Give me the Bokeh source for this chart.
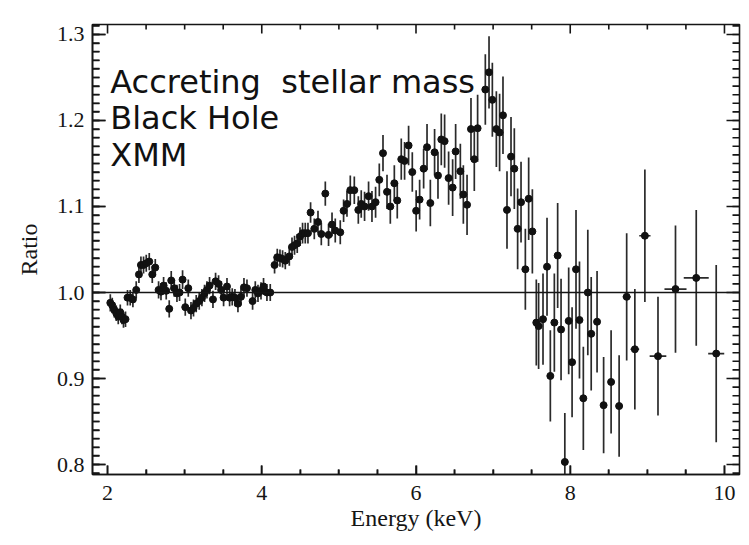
from bokeh.plotting import figure
from bokeh.models import (Range1d, FixedTicker, Span, Label, Whisker,
                          PrintfTickFormatter, ColumnDataSource)
from bokeh.embed import file_html
from bokeh.resources import INLINE

# ---------------- data ----------------
energy = [
    2.036, 2.061, 2.087, 2.113, 2.139, 2.165, 2.187, 2.207, 2.233, 2.259,
    2.294, 2.329, 2.372, 2.407, 2.433, 2.467, 2.502, 2.541, 2.580, 2.619,
    2.662, 2.693, 2.727, 2.761, 2.800, 2.826, 2.865, 2.900, 2.934, 2.973,
    3.008, 3.047, 3.082, 3.115, 3.150, 3.189, 3.224, 3.258, 3.289, 3.323,
    3.367, 3.401, 3.440, 3.475, 3.505, 3.549, 3.583, 3.617, 3.652, 3.691,
    3.730, 3.769, 3.808, 3.881, 3.916, 3.951, 3.990, 4.023, 4.067, 4.110,
    4.166, 4.201, 4.236, 4.270, 4.305, 4.357, 4.392, 4.425, 4.460, 4.496,
    4.529, 4.564, 4.599, 4.633, 4.681, 4.729, 4.772, 4.824, 4.866, 4.911,
    4.953, 5.018, 5.061, 5.105, 5.148, 5.200, 5.252, 5.290, 5.333, 5.385,
    5.429, 5.476, 5.524, 5.572, 5.624, 5.667, 5.719, 5.757, 5.809, 5.852,
    5.904, 5.952, 6.002,
    6.047, 6.099, 6.143, 6.186, 6.241, 6.285, 6.328, 6.371, 6.423, 6.475,
    6.514, 6.575, 6.614, 6.662, 6.713, 6.756, 6.799, 6.899, 6.947, 6.990,
    7.042, 7.084, 7.128, 7.180, 7.232, 7.275, 7.318, 7.362, 7.418, 7.461,
    7.509,
    7.560, 7.590, 7.647, 7.699, 7.742, 7.794, 7.837, 7.881, 7.930, 7.980,
    8.024, 8.075, 8.120, 8.170, 8.228, 8.272, 8.348, 8.433, 8.530, 8.634,
    8.732, 8.838, 8.968, 9.138, 9.365, 9.634, 9.893,
]

ratio = [
    0.988, 0.985, 0.980, 0.976, 0.972, 0.977, 0.972, 0.968, 0.969, 0.994,
    0.994, 0.992, 1.003, 1.021, 1.032, 1.032, 1.034, 1.036, 1.021, 1.029,
    1.003, 1.001, 1.008, 1.002, 0.981, 1.014, 1.005, 0.999, 1.000, 1.015,
    0.983, 1.005, 0.979, 0.982, 0.987, 0.990, 0.994, 0.999, 1.003, 1.008,
    0.992, 1.013, 1.010, 1.003, 0.994, 1.007, 0.994, 0.995, 0.994, 0.987,
    0.995, 1.006, 1.005, 0.990, 1.003, 0.999, 1.002, 1.007, 1.000, 1.000,
    1.032, 1.041, 1.040, 1.039, 1.037, 1.042, 1.053, 1.055, 1.057, 1.065,
    1.069, 1.069, 1.069, 1.093, 1.074, 1.082, 1.068, 1.115, 1.067, 1.079,
    1.072, 1.070, 1.095, 1.103, 1.119, 1.119, 1.096, 1.103, 1.100, 1.112,
    1.100, 1.105, 1.131, 1.162, 1.117, 1.100, 1.127, 1.107, 1.155, 1.153,
    1.171, 1.140, 1.095,
    1.108, 1.144, 1.169, 1.104, 1.163, 1.136, 1.178, 1.176, 1.133, 1.122,
    1.164, 1.141, 1.114, 1.102, 1.190, 1.155, 1.191, 1.236, 1.256, 1.224,
    1.190, 1.186, 1.206, 1.096, 1.158, 1.144, 1.074, 1.105, 1.027, 1.109,
    1.071,
    0.965, 0.961, 0.969, 1.030, 0.903, 0.965, 1.043, 0.957, 0.803, 0.967,
    0.919, 1.027, 0.968, 0.877, 1.000, 0.952, 0.966, 0.869, 0.896, 0.868,
    0.995, 0.934, 1.066, 0.926, 1.004, 1.017, 0.929,
]

ratio_err = [
    0.010, 0.009, 0.009, 0.009, 0.009, 0.009, 0.009, 0.009, 0.009, 0.009,
    0.009, 0.009, 0.010, 0.010, 0.010, 0.010, 0.010, 0.010, 0.010, 0.010,
    0.010, 0.010, 0.010, 0.010, 0.010, 0.011, 0.010, 0.010, 0.010, 0.011,
    0.010, 0.010, 0.010, 0.010, 0.010, 0.010, 0.010, 0.010, 0.010, 0.010,
    0.010, 0.010, 0.010, 0.010, 0.010, 0.010, 0.010, 0.010, 0.010, 0.010,
    0.010, 0.011, 0.010, 0.010, 0.010, 0.010, 0.010, 0.010, 0.010, 0.010,
    0.010, 0.010, 0.010, 0.010, 0.010, 0.011, 0.011, 0.011, 0.011, 0.011,
    0.012, 0.012, 0.012, 0.012, 0.012, 0.013, 0.013, 0.014, 0.013, 0.014,
    0.014, 0.014, 0.013, 0.015, 0.017, 0.016, 0.016, 0.016, 0.017, 0.017,
    0.018, 0.018, 0.019, 0.021, 0.020, 0.020, 0.021, 0.021, 0.024, 0.022,
    0.023, 0.023, 0.024,
    0.023, 0.023, 0.027, 0.027, 0.027, 0.027, 0.030, 0.031, 0.031, 0.033,
    0.032, 0.032, 0.034, 0.035, 0.036, 0.037, 0.039, 0.041, 0.042, 0.043,
    0.044, 0.045, 0.045, 0.045, 0.046, 0.047, 0.047, 0.047, 0.047, 0.048,
    0.049,
    0.050, 0.050, 0.053, 0.057, 0.053, 0.057, 0.061, 0.059, 0.057, 0.062,
    0.064, 0.069, 0.068, 0.060, 0.073, 0.066, 0.059, 0.056, 0.060, 0.059,
    0.074, 0.070, 0.077, 0.069, 0.074, 0.079, 0.103,
]

# half bin widths shown as horizontal bars (high-energy bins)
wide_energy = [8.732, 8.838, 8.968, 9.138, 9.365, 9.634, 9.893]
wide_ratio = [0.995, 0.934, 1.066, 0.926, 1.004, 1.017, 0.929]
wide_halfwidth = [0.050, 0.056, 0.073, 0.108, 0.143, 0.162, 0.104]

x_lo, x_hi = 1.805, 10.195
y_lo, y_hi = 0.7884, 1.3116
x_major = [2, 4, 6, 8, 10]
x_minor = [2.5, 3, 3.5, 4.5, 5, 5.5, 6.5, 7, 7.5, 8.5, 9, 9.5]
y_major = [0.8, 0.9, 1.0, 1.1, 1.2, 1.3]
y_minor = [round(0.79 + 0.01 * i, 2) for i in range(53)]

annotation_lines = ["Accreting\u00a0 stellar mass", "Black Hole", "XMM"]
annotation_baselines = [1.2449, 1.2030, 1.1597]
x_title = "Energy (keV)"
y_title = "Ratio"

assert len(energy) == len(ratio) == len(ratio_err)

# ---------------- figure ----------------
INK = "#151515"
SERIF = "Liberation Serif"
FIG_W, FIG_H = 749, 545
B_LEFT, B_RIGHT, B_TOP, B_BOTTOM = 92, 10, 24, 71
FRAME_W = FIG_W - B_LEFT - B_RIGHT
FRAME_H = FIG_H - B_TOP - B_BOTTOM

p = figure(width=FIG_W, height=FIG_H,
           x_range=Range1d(x_lo, x_hi), y_range=Range1d(y_lo, y_hi),
           output_backend="svg", toolbar_location=None,
           min_border_left=B_LEFT, min_border_right=B_RIGHT,
           min_border_top=B_TOP, min_border_bottom=B_BOTTOM,
           x_axis_label=x_title, y_axis_label=y_title)
p.grid.visible = False
p.outline_line_color = INK
p.outline_line_width = 1.6
p.background_fill_color = "white"
p.border_fill_color = "white"

xa = p.xaxis[0]
ya = p.yaxis[0]
xa.ticker = FixedTicker(ticks=x_major, minor_ticks=x_minor)
ya.ticker = FixedTicker(ticks=y_major, minor_ticks=y_minor)
ya.formatter = PrintfTickFormatter(format="%.1f")
for ax, (mj, mn) in ((xa, (9, 5)), (ya, (13, 7))):
    ax.axis_line_color = INK
    ax.axis_line_width = 1.6
    ax.major_tick_line_color = INK
    ax.minor_tick_line_color = INK
    ax.major_tick_line_width = 1.6
    ax.minor_tick_line_width = 1.6
    ax.major_tick_in = mj
    ax.major_tick_out = 0
    ax.minor_tick_in = mn
    ax.minor_tick_out = 0
    ax.major_label_text_font = SERIF
    ax.major_label_text_font_size = "22px"
    ax.major_label_text_color = INK
    ax.axis_label_text_font = SERIF
    ax.axis_label_text_font_size = "24px"
    ax.axis_label_text_font_style = "normal"
    ax.axis_label_text_color = INK
xa.major_label_standoff = 11
ya.major_label_standoff = 8
xa.axis_label_standoff = 2
ya.axis_label_standoff = 12

# ---- inward tick marks on all four sides of the frame (IDL style) ----
sx = (x_hi - x_lo) / FRAME_W   # data units per pixel, x
sy = (y_hi - y_lo) / FRAME_H   # data units per pixel, y


def add_bars(base, lower, upper, dimension, width):
    s = ColumnDataSource(dict(base=base, lower=lower, upper=upper))
    p.add_layout(Whisker(source=s, base="base", lower="lower", upper="upper",
                         dimension=dimension, lower_head=None, upper_head=None,
                         line_color=INK, line_width=width))


def yticks(vals, length_px, width):
    d = length_px * sx
    n = len(vals)
    add_bars(list(vals) * 2, [x_lo] * n + [x_hi - d] * n,
             [x_lo + d] * n + [x_hi] * n, "width", width)


def xticks(vals, length_px, width):
    d = length_px * sy
    n = len(vals)
    add_bars(list(vals) * 2, [y_lo] * n + [y_hi - d] * n,
             [y_lo + d] * n + [y_hi] * n, "height", width)


yticks(y_major, 13, 1.6)
yticks(y_minor, 7, 1.6)
xticks(x_major, 9, 1.6)
xticks(x_minor, 5, 1.6)

p.add_layout(Span(location=1.0, dimension="width", line_color=INK,
                  line_width=1.6))

src = ColumnDataSource(dict(
    x=energy, y=ratio,
    lo=[r - e for r, e in zip(ratio, ratio_err)],
    hi=[r + e for r, e in zip(ratio, ratio_err)],
))
p.segment(x0="x", y0="lo", x1="x", y1="hi", source=src,
          line_color="#2a2a2a", line_width=1.7)

wsrc = ColumnDataSource(dict(
    y=wide_ratio,
    x0=[e - w for e, w in zip(wide_energy, wide_halfwidth)],
    x1=[e + w for e, w in zip(wide_energy, wide_halfwidth)],
))
p.segment(x0="x0", y0="y", x1="x1", y1="y", source=wsrc,
          line_color="#2a2a2a", line_width=1.7)

p.scatter(x="x", y="y", source=src, size=7, marker="circle",
          fill_color="#111111", line_color="#111111")

# annotation text (top-left)
for txt, yb in zip(annotation_lines, annotation_baselines):
    p.add_layout(Label(x=2.035, y=yb, text=txt, text_font="DejaVu Sans",
                       text_font_size="32px", text_color="#111111",
                       text_baseline="alphabetic", text_align="left"))

open("out.html", "w").write(file_html(p, INLINE))
